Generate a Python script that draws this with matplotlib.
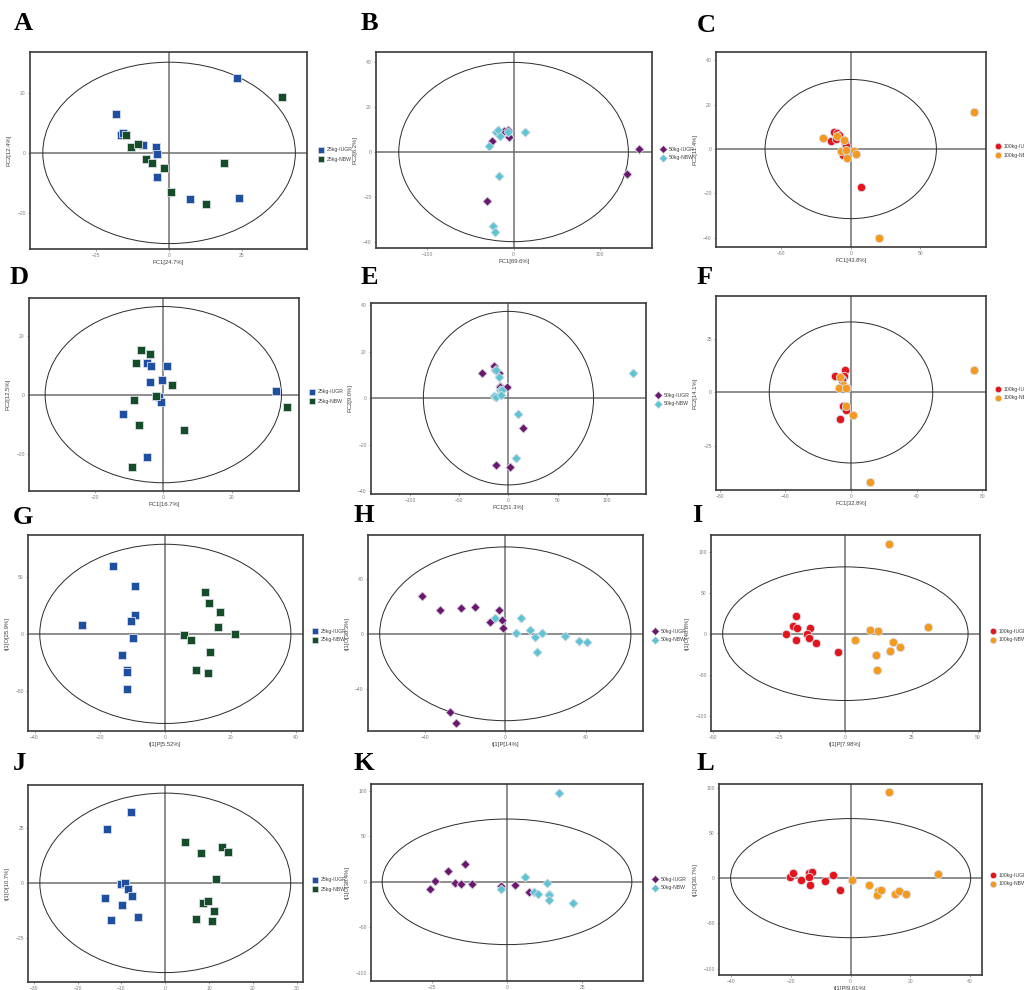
import matplotlib
matplotlib.use("Agg")
import matplotlib.pyplot as plt
from matplotlib.patches import Ellipse

plt.rcParams['font.family'] = ['Liberation Sans', 'DejaVu Sans']

# ---- score data (PCA: A-F, OPLS-DA: G-L) ----
A_IUGR_X = [23.4, -18.2, -16.6, -15.9, -9.0, -4.6, -4.0, -4.0, 7.1, 23.9]
A_IUGR_Y = [24.8, 12.8, 5.9, 6.5, 2.7, 2.0, -0.4, -8.0, -15.5, -15.0]
A_NBW_X = [38.9, -14.7, -13.1, -10.7, -7.8, -5.8, -1.9, 0.5, 12.6, 18.8]
A_NBW_Y = [18.5, 6.1, 1.9, 2.8, -1.9, -3.3, -5.1, -13.1, -17.0, -3.5]

B_IUGR_X = [145.6, 131.7, -30.5, -25.0, -15.4, -10.8, -6.5, -5.8]
B_IUGR_Y = [1.5, -9.6, -21.9, 4.9, 8.4, 9.1, 9.8, 6.8]
B_NBW_X = [12.7, -28.2, -20.0, -18.1, -15.4, -6.5, -16.6, -24.3, -21.6]
B_NBW_Y = [8.8, 2.6, 9.0, 9.8, 7.2, 9.0, -10.8, -32.8, -35.2]

C_IUGR_X = [-12.2, -9.6, -8.2, -14.1, -10.8, -4.1, -3.4, -5.3, 7.6]
C_IUGR_Y = [7.7, 7.1, 6.4, 3.5, 4.4, 2.8, 1.4, -2.7, -17.3]
C_NBW_X = [88.3, -19.9, -10.1, -5.0, -7.0, -3.4, 2.4, 3.6, -2.7, 20.3]
C_NBW_Y = [16.5, 5.0, 5.7, 4.2, -0.8, -0.5, -0.9, -2.1, -4.2, -40.0]

D_IUGR_X = [32.8, -4.7, -3.7, 1.1, -4.0, -0.3, -1.3, -0.8, -11.7, -4.7]
D_IUGR_Y = [1.4, 10.9, 9.8, 9.8, 4.4, 5.1, -0.8, -2.6, -6.7, -21.3]
D_NBW_X = [35.9, -6.5, -3.8, -7.9, 2.4, -2.2, -8.4, -7.1, 6.1, -9.2]
D_NBW_Y = [-4.1, 15.2, 13.8, 10.9, 3.4, -0.4, -1.9, -10.4, -12.1, -24.7]

E_IUGR_X = [-27.0, -14.8, -13.5, -10.1, -8.1, -8.7, -1.6, 15.2, -12.2, 2.0]
E_IUGR_Y = [10.9, 13.9, 11.9, 11.0, 5.3, 4.9, 4.6, -12.7, -28.9, -29.5]
E_NBW_X = [126.9, -12.2, -9.7, -8.1, -6.1, -14.8, -12.8, -7.1, 9.5, 7.8]
E_NBW_Y = [10.8, 12.2, 9.1, 3.3, 3.3, 1.1, 0.6, 1.3, -6.8, -25.7]

F_IUGR_X = [-3.9, -9.6, -4.5, -5.7, -5.3, -2.2, -4.7, -2.9, -6.5]
F_IUGR_Y = [10.4, 7.6, 7.8, 6.5, 5.7, 2.3, -6.5, -8.1, -12.4]
F_NBW_X = [74.9, -6.7, -4.9, -7.5, -3.2, -3.2, 1.2, 11.8]
F_NBW_Y = [10.5, 7.1, 3.4, 2.3, 2.0, -6.5, -10.6, -41.6]

G_IUGR_X = [-16.0, -9.4, -9.4, -10.5, -25.5, -9.8, -13.2, -11.6, -11.7, -11.6]
G_IUGR_Y = [59.6, 41.6, 16.7, 11.7, 7.6, -3.2, -18.7, -31.8, -33.6, -48.5]
G_NBW_X = [12.0, 13.4, 16.7, 16.1, 21.3, 5.6, 7.8, 13.8, 9.4, 13.1]
G_NBW_Y = [36.3, 26.9, 18.8, 5.9, 0.3, -0.6, -5.8, -15.8, -31.8, -34.5]

H_IUGR_X = [-41.3, -32.5, -22.1, -14.9, -3.3, -7.8, -1.8, -1.3, -27.7, -24.4]
H_IUGR_Y = [27.7, 17.3, 18.5, 19.5, 17.1, 8.8, 9.8, 3.9, -56.6, -64.7]
H_NBW_X = [-5.0, 7.8, 5.2, 12.1, 14.6, 18.4, 15.8, 29.7, 36.5, 40.7]
H_NBW_Y = [11.7, 11.2, 0.7, 2.9, -2.6, 0.5, -13.1, -1.9, -5.3, -5.8]

I_IUGR_X = [-18.7, -19.7, -18.1, -13.4, -22.3, -14.4, -13.7, -18.7, -10.9, -2.8]
I_IUGR_Y = [21.2, 9.4, 7.3, 7.0, 0.0, 0.0, -5.2, -7.3, -11.0, -22.7]
I_NBW_X = [16.6, 31.3, 9.2, 12.3, 3.7, 18.1, 20.6, 16.8, 11.5, 11.9]
I_NBW_Y = [109.8, 8.2, 4.9, 3.3, -8.1, -10.5, -16.2, -20.7, -26.4, -44.7]

J_IUGR_X = [-7.8, -13.2, -10.0, -9.1, -8.4, -7.7, -13.7, -9.9, -6.3, -12.3]
J_IUGR_Y = [32.4, 24.8, -0.5, 0.1, -2.6, -5.8, -6.8, -9.9, -15.7, -16.9]
J_NBW_X = [4.4, 8.1, 13.0, 14.3, 11.5, 8.7, 9.7, 11.1, 7.0, 10.7]
J_NBW_Y = [18.6, 13.7, 16.3, 14.0, 1.7, -9.1, -8.4, -12.8, -16.3, -17.4]

K_IUGR_X = [-25.5, -24.0, -19.7, -17.3, -15.2, -13.8, -11.7, -2.1, 2.8, 7.3]
K_IUGR_Y = [-8.1, 0.8, 11.5, -1.1, -2.9, 19.5, -2.2, -4.4, -4.0, -11.4]
K_NBW_X = [17.1, 6.0, 13.4, -2.0, 8.8, 10.4, 14.0, 14.0, 13.8, 21.8]
K_NBW_Y = [98.2, 4.9, -1.8, -8.4, -11.7, -13.2, -13.2, -15.0, -20.2, -23.2]

L_IUGR_X = [-20.3, -19.4, -16.6, -14.0, -13.0, -14.0, -13.7, -8.5, -6.0, -3.6]
L_IUGR_Y = [1.4, 5.8, -1.5, 6.2, 7.3, 1.1, -8.1, -3.3, 4.0, -13.2]
L_NBW_X = [12.8, 29.3, 0.5, 6.0, 9.0, 8.8, 10.2, 14.7, 16.2, 18.5]
L_NBW_Y = [94.9, 5.1, -2.2, -7.7, -14.0, -18.8, -12.6, -17.0, -14.0, -17.0]

# Hotelling T2 ellipse semi-axes (x, y)
ELLIPSES = {
    'A': (43.4, 30.2), 'B': (133.0, 39.7), 'C': (61.5, 31.4),
    'D': (34.4, 29.9), 'E': (86.5, 37.3), 'F': (49.9, 32.9),
    'G': (38.4, 78.5), 'H': (62.4, 63.3), 'I': (46.3, 81.5),
    'J': (28.6, 41.0), 'K': (41.4, 69.2), 'L': (40.2, 65.8),
}

X_LABELS = {
    'A': 'PC1[24.7%]', 'B': 'PC1[69.6%]', 'C': 'PC1[43.8%]',
    'D': 'PC1[16.7%]', 'E': 'PC1[51.3%]', 'F': 'PC1[32.8%]',
    'G': 't[1]P[5.52%]', 'H': 't[1]P[14%]', 'I': 't[1]P[7.98%]',
    'J': 't[1]P[5.54%]', 'K': 't[1]P[4.37%]', 'L': 't[1]P[9.61%]',
}
Y_LABELS = {
    'A': 'PC2[12.4%]', 'B': 'PC2[6.2%]', 'C': 'PC2[11.4%]',
    'D': 'PC2[12.5%]', 'E': 'PC2[9.0%]', 'F': 'PC2[14.1%]',
    'G': 't[1]O[25.9%]', 'H': 't[1]O[30.3%]', 'I': 't[1]O[40.8%]',
    'J': 't[1]O[10.7%]', 'K': 't[1]O[38.4%]', 'L': 't[1]O[30.7%]',
}

GROUPS_25 = ['25kg-IUGR', '25kg-NBW']
GROUPS_50 = ['50kg-IUGR', '50kg-NBW']
GROUPS_100 = ['100kg-IUGR', '100kg-NBW']

X_TICKS = {
    'A': [-25, 0, 25], 'B': [-100, 0, 100], 'C': [-50, 0, 50],
    'D': [-20, 0, 20], 'E': [-100, -50, 0, 50, 100], 'F': [-80, -40, 0, 40, 80],
    'G': [-40, -20, 0, 20, 40], 'H': [-40, 0, 40], 'I': [-50, -25, 0, 25, 50],
    'J': [-30, -20, -10, 0, 10, 20, 30], 'K': [-25, 0, 25], 'L': [-40, -20, 0, 20, 40],
}
Y_TICKS = {
    'A': [-20, 0, 20], 'B': [-40, -20, 0, 20, 40], 'C': [-40, -20, 0, 20, 40],
    'D': [-20, 0, 20], 'E': [-40, -20, 0, 20, 40], 'F': [-25, 0, 25],
    'G': [-50, 0, 50], 'H': [-40, 0, 40], 'I': [-100, -50, 0, 50, 100],
    'J': [-25, 0, 25], 'K': [-100, -50, 0, 50, 100], 'L': [-100, -50, 0, 50, 100],
}

SERIES = {
    'A': ((A_IUGR_X, A_IUGR_Y), (A_NBW_X, A_NBW_Y)),
    'B': ((B_IUGR_X, B_IUGR_Y), (B_NBW_X, B_NBW_Y)),
    'C': ((C_IUGR_X, C_IUGR_Y), (C_NBW_X, C_NBW_Y)),
    'D': ((D_IUGR_X, D_IUGR_Y), (D_NBW_X, D_NBW_Y)),
    'E': ((E_IUGR_X, E_IUGR_Y), (E_NBW_X, E_NBW_Y)),
    'F': ((F_IUGR_X, F_IUGR_Y), (F_NBW_X, F_NBW_Y)),
    'G': ((G_IUGR_X, G_IUGR_Y), (G_NBW_X, G_NBW_Y)),
    'H': ((H_IUGR_X, H_IUGR_Y), (H_NBW_X, H_NBW_Y)),
    'I': ((I_IUGR_X, I_IUGR_Y), (I_NBW_X, I_NBW_Y)),
    'J': ((J_IUGR_X, J_IUGR_Y), (J_NBW_X, J_NBW_Y)),
    'K': ((K_IUGR_X, K_IUGR_Y), (K_NBW_X, K_NBW_Y)),
    'L': ((L_IUGR_X, L_IUGR_Y), (L_NBW_X, L_NBW_Y)),
}

# ---- styling per body-weight stage ----
STYLE_25 = dict(marker='s', colors=('#1F4FA0', '#154D26'), size=30, groups=GROUPS_25)
STYLE_50 = dict(marker='D', colors=('#6C176E', '#5EC3D3'), size=22, groups=GROUPS_50)
STYLE_100 = dict(marker='o', colors=('#E5141C', '#F59A1E'), size=36, groups=GROUPS_100)
STAGE = {'A': STYLE_25, 'D': STYLE_25, 'G': STYLE_25, 'J': STYLE_25,
         'B': STYLE_50, 'E': STYLE_50, 'H': STYLE_50, 'K': STYLE_50,
         'C': STYLE_100, 'F': STYLE_100, 'I': STYLE_100, 'L': STYLE_100}

# panel frames in pixels: left, top, right, bottom ; axis limits
W, H = 1024, 990
FRAMES = {
    'A': (30, 52, 307, 249), 'B': (376, 52, 652, 248), 'C': (716, 52, 986, 247),
    'D': (29, 298, 299, 491), 'E': (371, 303, 646, 494), 'F': (716, 296, 986, 490),
    'G': (28, 535, 303, 731), 'H': (368, 535, 643, 731), 'I': (711, 535, 980, 731),
    'J': (28, 785, 303, 982), 'K': (371, 784, 643, 981), 'L': (719, 784, 982, 975),
}
LIMITS = {
    'A': ((-47.8, 47.4), (-32.0, 33.6)), 'B': ((-159.4, 160.4), (-42.5, 44.3)),
    'C': ((-96.7, 97.1), (-44.2, 43.8)), 'D': ((-39.1, 39.5), (-32.7, 32.8)),
    'E': ((-139.7, 139.8), (-41.2, 40.9)), 'F': ((-82.4, 82.4), (-45.5, 45.0)),
    'G': ((-42.0, 42.1), (-85.1, 86.6)), 'H': ((-68.2, 68.4), (-70.8, 72.0)),
    'I': ((-50.7, 50.8), (-118.7, 120.4)), 'J': ((-31.3, 31.4), (-45.3, 44.7)),
    'K': ((-45.1, 45.1), (-109.3, 107.8)), 'L': ((-44.1, 44.0), (-107.0, 104.0)),
}
# legend marker anchor (pixels) and panel letter centre (pixels)
LEGEND_POS = {
    'A': (321, 150), 'B': (663, 149), 'C': (998, 146),
    'D': (312, 392), 'E': (658, 395), 'F': (998, 389),
    'G': (315, 631), 'H': (655, 631), 'I': (993, 631),
    'J': (315, 880), 'K': (655, 879), 'L': (993, 875),
}
LETTER_POS = {
    'A': (23, 24), 'B': (369, 24), 'C': (706, 25),
    'D': (19, 277), 'E': (369, 277), 'F': (705, 277),
    'G': (23, 517), 'H': (364, 515), 'I': (697, 515),
    'J': (19, 763), 'K': (364, 763), 'L': (705, 763),
}

fig = plt.figure(figsize=(W / 100, H / 100), dpi=100)
fig.patch.set_facecolor('white')


def fx(px):
    return px / W


def fy(py):
    return 1 - py / H


for key in 'ABCDEFGHIJKL':
    l, t, r, b = FRAMES[key]
    ax = fig.add_axes([fx(l), fy(b), (r - l) / W, (b - t) / H])
    ax.set_xlim(*LIMITS[key][0])
    ax.set_ylim(*LIMITS[key][1])
    st = STAGE[key]

    ax.axhline(0, color='#6f6f6f', lw=1.1, zorder=1)
    ax.axvline(0, color='#6f6f6f', lw=1.1, zorder=1)
    ex, ey = ELLIPSES[key]
    ax.add_patch(Ellipse((0, 0), 2 * ex, 2 * ey, fill=False,
                         ec='#2a2a2a', lw=0.7, zorder=2))

    for (xs, ys), col in zip(SERIES[key], st['colors']):
        ax.scatter(xs, ys, s=st['size'], marker=st['marker'], c=col,
                   edgecolors='#d8dde6', linewidths=0.6, zorder=3)

    for sp in ax.spines.values():
        sp.set_color('#3a3a3a')
        sp.set_linewidth(1.2)
    ax.set_xticks(X_TICKS[key])
    ax.set_yticks(Y_TICKS[key])
    ax.tick_params(labelsize=3.6, labelcolor='#808080', color='#808080',
                   length=1.5, width=0.5, pad=1.5)
    ax.set_xlabel(X_LABELS[key], fontsize=4.2, color='#404040', labelpad=1)
    ax.set_ylabel(Y_LABELS[key], fontsize=4.2, color='#404040', labelpad=4)

    # group legend to the right of the frame
    lx, ly = LEGEND_POS[key]
    for i, (name, col) in enumerate(zip(st['groups'], st['colors'])):
        yy = ly + 9 * i
        fig.add_artist(plt.Line2D([fx(lx)], [fy(yy)], marker=st['marker'],
                                  ms=4.6 if st['marker'] != 'D' else 3.9,
                                  mfc=col, mec='#d8dde6', mew=0.5,
                                  transform=fig.transFigure))
        fig.text(fx(lx + 6), fy(yy), name, fontsize=3.7, color='#404040',
                 ha='left', va='center')

    cx, cy = LETTER_POS[key]
    fig.text(fx(cx), fy(cy), key, fontsize=19, fontweight='bold',
             family='Liberation Serif', ha='center', va='center')

fig.savefig('out.png', dpi=100)
